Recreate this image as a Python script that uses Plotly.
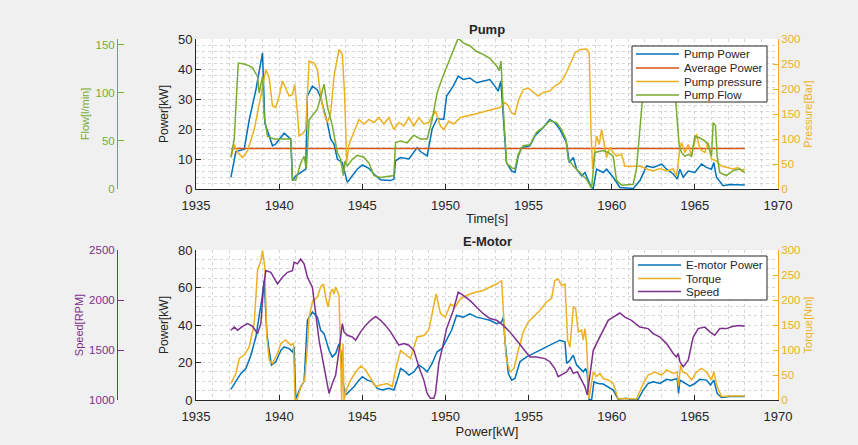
import plotly.graph_objects as go

# ---------------- Pump ----------------
pump_power_t = [1937.1, 1937.4, 1937.9, 1938.2, 1938.6, 1939.0, 1939.14, 1939.6, 1939.8, 1940.3,
                1940.7, 1940.8, 1941.0, 1941.5, 1941.6, 1941.7, 1942.0, 1942.3, 1942.5, 1942.9,
                1943.1, 1943.3, 1943.5, 1943.8, 1944.0, 1944.1, 1944.4, 1944.7, 1945.0, 1945.4,
                1945.7, 1946.1, 1946.7, 1946.9, 1947.0, 1947.3, 1947.8, 1948.3, 1948.5, 1948.9,
                1949.2, 1949.5, 1949.9, 1950.07, 1950.47, 1950.77, 1951.07, 1951.47, 1951.87, 1952.27,
                1952.67, 1952.97, 1953.17, 1953.33, 1953.48, 1953.67, 1953.98, 1954.18, 1954.38, 1954.58,
                1955.08, 1955.38, 1955.88, 1956.28, 1956.58, 1956.88, 1957.28, 1957.45, 1957.69, 1957.89,
                1958.19, 1958.39, 1958.59, 1958.79, 1958.89, 1959.09, 1959.49, 1959.69, 1960.09, 1960.49,
                1961.3, 1961.7, 1962.1, 1962.5, 1963.0, 1963.3, 1963.7, 1963.94, 1964.1, 1964.3,
                1964.6, 1965.0, 1965.4, 1965.7, 1966.0, 1966.14, 1966.3, 1966.7, 1967.1, 1967.5, 1968.0]
pump_power_kw = [3.9, 12.5, 13.3, 23, 33, 45.4, 22, 14.4, 15, 18.6,
                 16.6, 2.8, 4.4, 6, 6.6, 31, 34.3, 33, 30.4, 22,
                 16.6, 15, 10, 8.8, 3.9, 2.2, 4.4, 6.6, 8, 6.9,
                 5, 3.1, 2.8, 3.3, 9.4, 10.5, 10, 13.8, 12.5, 11,
                 20, 23.5, 23.2, 31, 34.3, 37.6, 36.5, 37, 35.4, 36,
                 36.5, 34.3, 32.6, 36, 23.2, 8.8, 6, 5.5, 11, 13.8,
                 14.4, 17.7, 20.5, 23.2, 22.1, 19.9, 15.5, 8.8, 10.5, 6.6,
                 4.4, 5.5, 2.8, 0.5, 0.2, 6.6, 5.5, 6.6, 3.9, 0.5,
                 0.2, 2.8, 7.7, 7.2, 8.3, 6.6, 5, 3.3, 6.6, 3.9,
                 6, 5.5, 8.3, 7.2, 6.6, 8.8, 3.9, 1.1, 1.5, 1.3, 1.3]

avg_power_t = [1937.1, 1968.0]
avg_power_kw = [13.5, 13.5]

pump_pressure_t = [1937.1, 1937.3, 1937.5, 1937.8, 1938.1, 1938.5, 1938.9, 1939.2, 1939.4, 1939.6,
                   1939.8, 1940.0, 1940.2, 1940.4, 1940.6, 1940.8, 1940.94, 1941.1, 1941.2, 1941.4,
                   1941.6, 1941.8, 1942.1, 1942.3, 1942.5, 1942.7, 1942.9, 1943.1, 1943.3, 1943.6,
                   1943.8, 1943.94, 1944.06, 1944.2, 1944.5, 1944.8, 1945.1, 1945.4, 1945.7, 1946.0,
                   1946.3, 1946.6, 1946.9, 1947.2, 1947.5, 1947.8, 1948.1, 1948.4, 1948.7, 1949.0,
                   1949.4, 1949.7, 1949.9, 1950.2, 1950.5, 1950.9, 1951.67, 1952.47, 1953.27, 1953.58,
                   1953.78, 1953.98, 1954.18, 1954.38, 1954.68, 1954.98, 1955.28, 1955.58, 1955.88, 1956.28,
                   1956.58, 1956.88, 1957.18, 1957.38, 1957.59, 1957.79, 1958.09, 1958.49, 1958.65, 1958.75,
                   1958.85, 1958.95, 1959.09, 1959.25, 1959.39, 1959.53, 1959.69, 1959.89, 1960.09, 1960.29,
                   1960.59, 1960.79, 1961.09, 1961.69, 1962.09, 1962.5, 1962.9, 1963.3, 1963.7, 1963.9,
                   1964.1, 1964.2, 1964.4, 1964.6, 1964.8, 1965.1, 1965.3, 1965.6, 1965.8, 1966.0,
                   1966.3, 1966.6, 1967.0, 1967.3, 1967.6, 1967.8, 1968.0]
pump_pressure_bar = [63, 89, 73, 63, 76, 119, 186, 239, 222, 166,
                     163, 186, 216, 199, 186, 189, 209, 152, 106, 110,
                     119, 256, 252, 239, 186, 152, 133, 152, 226, 279,
                     269, 186, 53, 89, 113, 139, 130, 139, 133, 143,
                     130, 143, 119, 133, 126, 143, 126, 143, 130, 133,
                     156, 126, 119, 136, 130, 143, 149, 156, 163, 173,
                     166, 152, 149, 176, 199, 202, 193, 186, 193, 196,
                     206, 212, 226, 242, 259, 272, 279, 280, 272, 119,
                     40, 66, 106, 89, 119, 93, 63, 83, 73, 66,
                     70, 46, 45, 46, 40, 36, 41, 36, 40, 26,
                     80, 93, 73, 89, 66, 110, 80, 73, 93, 60,
                     56, 46, 43, 40, 43, 36, 40]

pump_flow_t = [1937.1, 1937.3, 1937.54, 1937.9, 1938.2, 1938.4, 1938.7, 1938.8, 1939.0, 1939.1,
               1939.3, 1939.7, 1940.3, 1940.7, 1940.8, 1941.0, 1941.3, 1941.5, 1941.64, 1941.8,
               1942.3, 1942.7, 1942.9, 1943.2, 1943.5, 1943.7, 1943.86, 1943.96, 1944.1, 1944.4,
               1944.7, 1945.1, 1945.4, 1945.7, 1946.1, 1946.7, 1946.9, 1947.0, 1947.3, 1947.7,
               1948.1, 1948.5, 1948.9, 1949.2, 1949.5, 1949.8, 1950.1, 1950.5, 1950.77, 1951.07,
               1951.47, 1951.87, 1952.27, 1952.67, 1953.08, 1953.24, 1953.34, 1953.48, 1953.68, 1953.98,
               1954.18, 1954.38, 1954.68, 1955.08, 1955.48, 1955.88, 1956.28, 1956.68, 1956.98, 1957.24,
               1957.38, 1957.69, 1958.09, 1958.49, 1958.79, 1958.99, 1959.49, 1959.79, 1960.09, 1960.29,
               1960.59, 1961.29, 1961.49, 1961.69, 1961.89, 1962.0, 1962.5, 1963.3, 1963.7, 1963.94,
               1964.06, 1964.2, 1964.4, 1964.6, 1964.8, 1965.0, 1965.3, 1965.6, 1965.8, 1966.0,
               1966.1, 1966.24, 1966.34, 1966.5, 1966.9, 1967.3, 1967.7, 1968.0]
pump_flow_lpm = [33, 52, 131, 130, 128, 126, 117, 100, 117, 76,
                 55, 52, 52, 52, 10, 9, 27, 34, 21, 72,
                 83, 109, 86, 66, 38, 31, 14, 29, 24, 31,
                 35, 33, 27, 14, 12, 13, 14, 48, 50, 48,
                 56, 52, 52, 72, 100, 115, 128, 147, 157, 152,
                 149, 143, 140, 136, 128, 123, 133, 83, 27, 22,
                 21, 36, 45, 46, 59, 64, 71, 69, 62, 52,
                 31, 24, 17, 10, 1, 38, 40, 38, 34, 9,
                 4, 5, 21, 62, 97, 124, 131, 129, 124, 76,
                 45, 38, 34, 36, 34, 55, 53, 50, 46, 34,
                 69, 66, 34, 17, 14, 19, 21, 17]

# ---------------- E-Motor ----------------
motor_power_t = [1937.1, 1937.4, 1937.7, 1938.0, 1938.3, 1938.6, 1938.8, 1938.96, 1939.1, 1939.26,
                 1939.4, 1939.54, 1939.8, 1940.1, 1940.3, 1940.6, 1940.8, 1940.9, 1941.0, 1941.3,
                 1941.5, 1941.7, 1942.0, 1942.3, 1942.5, 1942.7, 1943.0, 1943.2, 1943.4, 1943.6,
                 1943.7, 1943.8, 1944.0, 1944.2, 1944.5, 1944.8, 1945.0, 1945.3, 1945.6, 1945.9,
                 1946.2, 1946.6, 1946.9, 1947.1, 1947.3, 1947.6, 1947.8, 1948.1, 1948.4, 1948.7,
                 1948.9, 1949.2, 1949.5, 1949.8, 1950.07, 1950.37, 1950.67, 1951.07, 1951.47, 1951.87,
                 1952.27, 1952.67, 1953.08, 1953.38, 1953.48, 1953.58, 1953.78, 1953.98, 1954.18, 1954.48,
                 1954.88, 1955.28, 1955.68, 1956.08, 1956.48, 1956.88, 1957.19, 1957.29, 1957.49, 1957.69,
                 1957.89, 1958.09, 1958.29, 1958.43, 1958.53, 1958.63, 1958.79, 1958.93, 1959.19, 1959.49,
                 1959.79, 1960.09, 1960.39, 1960.89, 1961.19, 1961.59, 1961.89, 1962.19, 1962.5, 1962.9,
                 1963.3, 1963.6, 1963.94, 1964.02, 1964.1, 1964.4, 1964.7, 1965.0, 1965.3, 1965.7,
                 1965.94, 1966.14, 1966.34, 1966.6, 1967.1, 1968.0]
motor_power_kw = [5.7, 9.7, 14.2, 16.8, 23.9, 33.6, 44.2, 54, 63.7, 35.4,
                  26.5, 18.6, 20.4, 26.5, 28.3, 27.4, 25.7, 28.3, 0.5, 7,
                  10, 42.5, 46.9, 44.2, 37.2, 35.4, 26.5, 23, 24.8, 30,
                  26.5, 10.6, 2.7, 4.4, 7.1, 10.6, 12.4, 10.6, 9.7, 6.2,
                  5.3, 6.2, 5.3, 10.6, 16.8, 15, 13.3, 15, 18.6, 16.8,
                  15, 19.5, 25.7, 27.5, 31.9, 37.2, 45.1, 44.2, 46, 44.2,
                  43.4, 42.5, 40.7, 41.6, 44.2, 31.9, 14.2, 10.6, 11.5, 20.4,
                  23, 24.8, 26.5, 28.3, 30.1, 31.9, 31, 19.5, 21.2, 23.9,
                  18.6, 16.8, 15, 16.8, 14.2, 0.4, 0, 9.7, 8.8, 8.5,
                  7.1, 5.3, 0.4, 0.9, 0, 0.4, 5.3, 8.8, 9.7, 8.8,
                  11, 10.6, 11.5, 3.5, 10.6, 8.8, 7.4, 8.8, 11, 10.6,
                  8, 10.6, 3.5, 1.4, 1.8, 1.8]

torque_t = [1937.1, 1937.4, 1937.6, 1937.9, 1938.2, 1938.5, 1938.7, 1938.9, 1939.0, 1939.14,
            1939.26, 1939.4, 1939.6, 1939.9, 1940.1, 1940.4, 1940.7, 1940.86, 1940.96, 1941.1,
            1941.3, 1941.54, 1941.7, 1941.8, 1942.0, 1942.3, 1942.5, 1942.66, 1942.8, 1942.94,
            1943.1, 1943.2, 1943.3, 1943.4, 1943.6, 1943.7, 1943.76, 1943.84, 1943.9, 1944.04,
            1944.3, 1944.6, 1944.9, 1945.2, 1945.5, 1945.8, 1946.1, 1946.5, 1946.8, 1947.0,
            1947.3, 1947.6, 1947.9, 1948.3, 1948.7, 1949.0, 1949.2, 1949.44, 1949.7, 1950.0,
            1950.3, 1950.6, 1950.9, 1951.07, 1951.47, 1951.87, 1952.27, 1952.68, 1953.08, 1953.38,
            1953.48, 1953.64, 1953.88, 1954.12, 1954.38, 1954.68, 1954.98, 1955.28, 1955.68, 1956.08,
            1956.38, 1956.58, 1956.78, 1956.98, 1957.19, 1957.35, 1957.49, 1957.69, 1957.83, 1957.99,
            1958.19, 1958.29, 1958.39, 1958.49, 1958.63, 1958.89, 1959.09, 1959.29, 1959.49, 1959.79,
            1960.09, 1960.39, 1960.89, 1961.49, 1961.89, 1962.19, 1962.6, 1963.0, 1963.3, 1963.7,
            1963.94, 1964.02, 1964.14, 1964.26, 1964.5, 1964.8, 1965.1, 1965.4, 1965.7, 1966.0,
            1966.14, 1966.34, 1966.6, 1967.1, 1968.0]
torque_nm = [33, 53, 83, 90, 106, 153, 259, 279, 299, 266,
             126, 80, 73, 93, 113, 120, 110, 113, 0, 2,
             27, 40, 106, 166, 196, 206, 226, 232, 206, 186,
             216, 222, 212, 226, 209, 99, 0, 113, 0, 20,
             40, 56, 68, 60, 43, 27, 30, 33, 27, 60,
             99, 90, 83, 126, 129, 140, 173, 212, 173, 166,
             192, 186, 203, 206, 212, 216, 219, 226, 232, 239,
             169, 86, 56, 63, 99, 136, 156, 166, 179, 196,
             203, 239, 242, 229, 232, 120, 106, 186, 183, 136,
             140, 120, 143, 113, 2, 56, 47, 53, 43, 40,
             33, 2, 3, 2, 33, 50, 56, 50, 60, 53,
             56, 27, 70, 56, 53, 40, 56, 63, 56, 40,
             56, 27, 7, 8, 8]

speed_t = [1937.1, 1937.3, 1937.5, 1937.8, 1938.1, 1938.4, 1938.7, 1938.9, 1939.06, 1939.2,
           1939.5, 1939.7, 1939.9, 1940.2, 1940.5, 1940.8, 1940.9, 1941.1, 1941.3, 1941.5,
           1941.7, 1942.0, 1942.2, 1942.4, 1942.7, 1943.0, 1943.2, 1943.4, 1943.6, 1943.8,
           1943.9, 1944.1, 1944.4, 1944.6, 1944.9, 1945.2, 1945.5, 1945.8, 1946.1, 1946.4,
           1946.7, 1946.9, 1947.2, 1947.5, 1947.8, 1948.1, 1948.4, 1948.7, 1948.9, 1949.1,
           1949.3, 1949.4, 1949.6, 1949.9, 1950.07, 1950.47, 1950.77, 1951.07, 1951.47, 1951.87,
           1952.27, 1952.68, 1953.08, 1953.48, 1953.88, 1954.28, 1954.68, 1955.08, 1955.48, 1955.98,
           1956.28, 1956.58, 1956.78, 1957.08, 1957.29, 1957.49, 1957.69, 1957.93, 1958.19, 1958.39,
           1958.53, 1958.69, 1958.89, 1959.19, 1959.49, 1959.79, 1960.09, 1960.49, 1960.79, 1961.19,
           1961.69, 1962.19, 1962.5, 1962.9, 1963.3, 1963.7, 1963.9, 1964.0, 1964.1, 1964.3,
           1964.6, 1964.9, 1965.2, 1965.6, 1965.9, 1966.2, 1966.5, 1966.9, 1967.3, 1967.7, 1968.0]
speed_rpm = [1698, 1729, 1698, 1737, 1763, 1737, 1664, 1763, 2129, 2294,
             2277, 2211, 2161, 2228, 2277, 2294, 2378, 2361, 2410, 2361,
             2228, 2129, 1846, 1598, 1332, 1066, 1165, 1249, 1497, 1763,
             1681, 1647, 1630, 1598, 1681, 1746, 1797, 1836, 1797, 1746,
             1681, 1630, 1548, 1564, 1548, 1497, 1332, 1199, 1066, 1017,
             1017, 1066, 1366, 1581, 1714, 1896, 2078, 2046, 1996, 1930,
             1863, 1814, 1797, 1746, 1681, 1598, 1514, 1431, 1431, 1414,
             1383, 1315, 1233, 1266, 1281, 1332, 1266, 1281, 1199, 1133,
             1051, 1266, 1497, 1598, 1698, 1797, 1829, 1870, 1829, 1797,
             1729, 1714, 1664, 1630, 1564, 1465, 1431, 1465, 1383, 1332,
             1398, 1630, 1714, 1729, 1681, 1647, 1714, 1714, 1737, 1746, 1737]

time_ticks = [1935, 1940, 1945, 1950, 1955, 1960, 1965, 1970]

BLUE = "#0072BD"
ORANGE = "#D95319"
YELLOW = "#EDB120"
GREEN = "#77AC30"
PURPLE = "#7E2F8E"
AXIS = "#262626"
GRID = "#d6d6d6"
FONT = "Liberation Sans, Arial, sans-serif"

W, H = 858, 445


def px_x(p):
    return p / W


def px_y(p):
    return 1 - p / H


X_DOM = [px_x(196), px_x(778)]
TOP_DOM = [px_y(189), px_y(39)]
BOT_DOM = [px_y(400), px_y(250)]
FREE_POS = px_x(117)

fig = go.Figure()
lw = 1.5
pump_series = [
    ("Pump Power", pump_power_t, pump_power_kw, BLUE, "y"),
    ("Average Power", avg_power_t, avg_power_kw, ORANGE, "y"),
    ("Pump pressure", pump_pressure_t, pump_pressure_bar, YELLOW, "y2"),
    ("Pump Flow", pump_flow_t, pump_flow_lpm, GREEN, "y3"),
]
motor_series = [
    ("E-motor Power", motor_power_t, motor_power_kw, BLUE, "y4"),
    ("Torque", torque_t, torque_nm, YELLOW, "y5"),
    ("Speed", speed_t, speed_rpm, PURPLE, "y6"),
]
for name, t, v, c, ya in pump_series:
    fig.add_trace(go.Scatter(x=t, y=v, name=name, mode="lines", line=dict(color=c, width=lw),
                             xaxis="x", yaxis=ya, showlegend=False))
for name, t, v, c, ya in motor_series:
    fig.add_trace(go.Scatter(x=t, y=v, name=name, mode="lines", line=dict(color=c, width=lw),
                             xaxis="x2", yaxis=ya, showlegend=False))


def xaxis(anchor, title):
    return dict(domain=X_DOM, anchor=anchor, range=[1935, 1970], tickvals=time_ticks,
                ticks="inside", ticklen=5, tickcolor=AXIS, showline=True, linecolor=AXIS,
                linewidth=1, tickfont=dict(size=13, color=AXIS), zeroline=False, automargin=False,
                ticklabelstandoff=4,
                showgrid=True, gridcolor=GRID, griddash="dot", gridwidth=1,
                minor=dict(dtick=1, showgrid=True, gridcolor=GRID, griddash="dot", ticks=""),
                title=dict(text=title, font=dict(size=13, color=AXIS), standoff=2))


def left_axis(dom, rng, dtick, minor):
    return dict(domain=dom, range=rng, dtick=dtick, ticks="inside", ticklen=5, tickcolor=AXIS,
                showline=True, linecolor=AXIS, linewidth=1, tickfont=dict(size=13, color=AXIS),
                zeroline=False, showgrid=True, gridcolor=GRID, griddash="dot", automargin=False,
                minor=dict(dtick=minor, showgrid=True, gridcolor=GRID, griddash="dot", ticks=""),
                title=dict(text="Power[kW]", font=dict(size=12, color=AXIS), standoff=6))


def right_axis(over, anchor, title):
    return dict(overlaying=over, anchor=anchor, side="right", range=[0, 300], dtick=50,
                ticks="inside", ticklen=5, tickcolor=YELLOW, showline=True, linecolor=YELLOW,
                tickfont=dict(size=11.5, color=YELLOW), showgrid=False, zeroline=False,
                automargin=False,
                title=dict(text=title, font=dict(size=11, color=YELLOW), standoff=4))


def free_axis(over, rng, tickvals, color, title):
    return dict(overlaying=over, anchor="free", position=FREE_POS, side="left", range=rng,
                tickvals=tickvals, ticks="inside", ticklen=6, tickcolor=color, showline=True,
                linecolor=color, tickfont=dict(size=11.5, color=color), showgrid=False,
                zeroline=False, automargin=False,
                title=dict(text=title, font=dict(size=11, color=color), standoff=2))


# Legend boxes: frame, line samples and labels
shapes = []
annotations = []


def legend_box(series, x0, x1, y0, y1, rows, sx0, sx1, tx):
    shapes.append(dict(type="rect", xref="paper", yref="paper", x0=px_x(x0), x1=px_x(x1),
                       y0=px_y(y1), y1=px_y(y0), fillcolor="white", layer="above",
                       line=dict(color=AXIS, width=1)))
    for (name, _, _, color, _), ry in zip(series, rows):
        shapes.append(dict(type="line", xref="paper", yref="paper", x0=px_x(sx0), x1=px_x(sx1),
                           y0=px_y(ry), y1=px_y(ry), layer="above",
                           line=dict(color=color, width=lw)))
        annotations.append(dict(text=name, x=px_x(tx), y=px_y(ry), xref="paper", yref="paper",
                                xanchor="left", yanchor="middle", showarrow=False,
                                font=dict(size=11.5, color=AXIS)))


legend_box(pump_series, 632, 767, 46, 102, [54, 68, 81.5, 95], 636, 679, 682)
legend_box(motor_series, 633, 767, 256, 300, [265, 278.5, 291.5], 638, 681, 684)

annotations += [
    dict(text="<b>Pump</b>", x=(X_DOM[0] + X_DOM[1]) / 2, y=px_y(30), xref="paper", yref="paper",
         xanchor="center", yanchor="middle", showarrow=False, font=dict(size=13, color=AXIS)),
    dict(text="<b>E-Motor</b>", x=(X_DOM[0] + X_DOM[1]) / 2, y=px_y(241), xref="paper",
         yref="paper", xanchor="center", yanchor="middle", showarrow=False,
         font=dict(size=13, color=AXIS)),
]

fig.update_layout(
    width=W, height=H, margin=dict(l=0, r=0, t=0, b=0, autoexpand=False),
    paper_bgcolor="#f0f0f0", plot_bgcolor="white",
    font=dict(family=FONT, color=AXIS),
    xaxis=xaxis("y", "Time[s]"),
    yaxis=left_axis(TOP_DOM, [0, 50], 10, 2),
    yaxis2=right_axis("y", "x", "Pressure[Bar]"),
    yaxis3=free_axis("y", [0, 156], [0, 50, 100, 150], GREEN, "Flow[l/min]"),
    xaxis2=xaxis("y4", "Power[kW]"),
    yaxis4=left_axis(BOT_DOM, [0, 80], 20, 5),
    yaxis5=right_axis("y4", "x2", "Torque[Nm]"),
    yaxis6=free_axis("y4", [1000, 2500], [1000, 1500, 2000, 2500], PURPLE, "Speed[RPM]"),
    showlegend=False,
    shapes=shapes,
    annotations=annotations,
)

fig.write_html("out.html")
